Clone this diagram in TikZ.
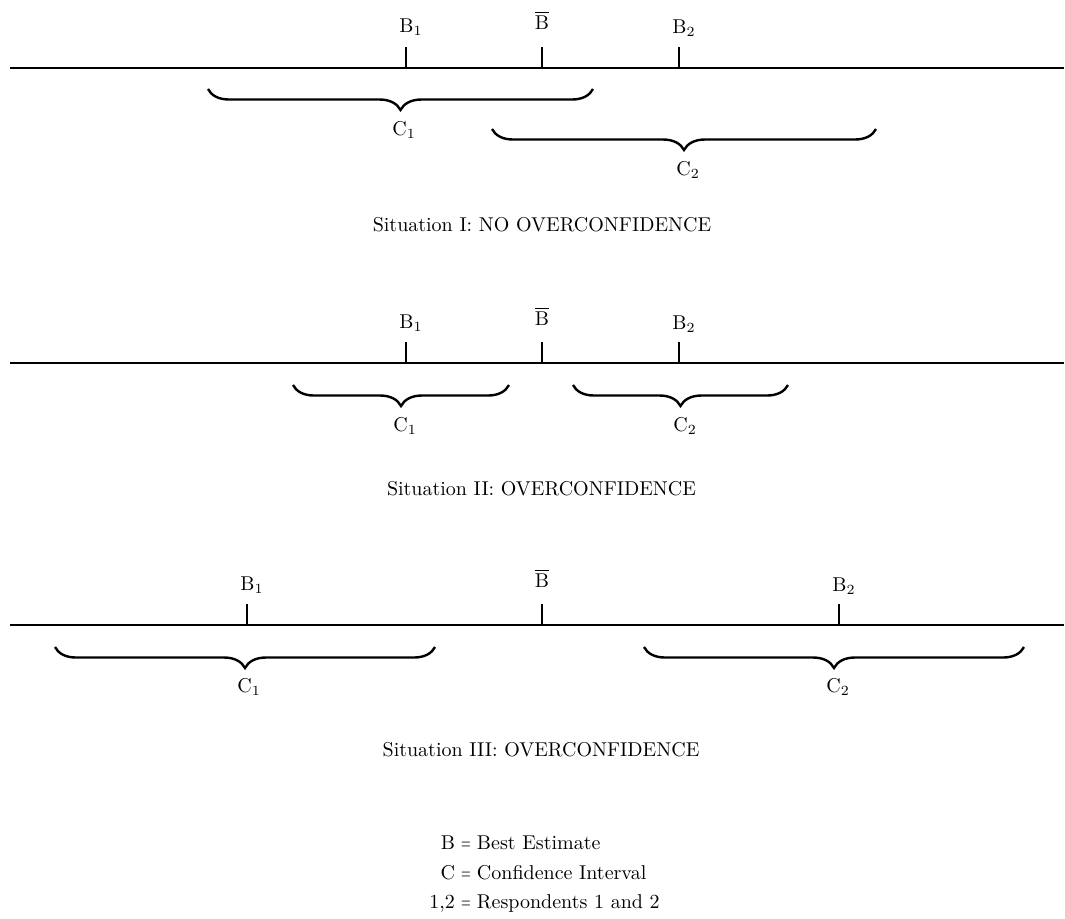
\documentclass[tikz,border=0pt]{standalone}
\usetikzlibrary{decorations.pathreplacing}
\begin{document}
\begin{tikzpicture}[x=0.5pt,y=-0.5pt,
  axis/.style={line width=1pt},
  tickmark/.style={line width=1.35pt},
  ci/.style={line width=1.2pt, decorate, decoration={brace, mirror, amplitude=10.5pt}},
  lab/.style={inner sep=0pt, font=\fontsize{10}{12}\selectfont, anchor=base west},
  barlab/.style={inner sep=0pt, font=\fontsize{10}{12}\selectfont, anchor=base},
  title/.style={inner sep=0pt, font=\fontsize{10}{12}\selectfont, anchor=base}]
\useasboundingbox (0,0) rectangle (1065,918);

% ---------- Situation I ----------
\coordinate (L1a) at (10,68);
\coordinate (L1b) at (1064,68);
\draw[axis] (L1a) -- (L1b);
\coordinate (k1a) at (406,68);  \coordinate (k1at) at (406,47);
\coordinate (k1b) at (542,68);  \coordinate (k1bt) at (542,47);
\coordinate (k1c) at (679,68);  \coordinate (k1ct) at (679,47);
\draw[tickmark] (k1a) -- (k1at);
\draw[tickmark] (k1b) -- (k1bt);
\draw[tickmark] (k1c) -- (k1ct);
\node[lab] (B1i) at (399,32) {B$_1$};
\node[barlab] (Bbi) at (542,29) {$\overline{\mathrm{B}}$};
\node[lab] (B2i) at (672,33) {B$_2$};
\coordinate (c1s) at (208,89);  \coordinate (c1e) at (593,89);
\draw[ci] (c1s) -- (c1e);
\node[lab] (C1i) at (392,135) {C$_1$};
\coordinate (c2s) at (492,129); \coordinate (c2e) at (876,129);
\draw[ci] (c2s) -- (c2e);
\node[lab] (C2i) at (676,175) {C$_2$};
\node[title] (S1) at (542,231) {Situation I: NO OVERCONFIDENCE};

% ---------- Situation II ----------
\coordinate (L2a) at (10,363);
\coordinate (L2b) at (1064,363);
\draw[axis] (L2a) -- (L2b);
\coordinate (k2a) at (406,363);  \coordinate (k2at) at (406,342);
\coordinate (k2b) at (542,363);  \coordinate (k2bt) at (542,342);
\coordinate (k2c) at (679,363);  \coordinate (k2ct) at (679,342);
\draw[tickmark] (k2a) -- (k2at);
\draw[tickmark] (k2b) -- (k2bt);
\draw[tickmark] (k2c) -- (k2ct);
\node[lab] (B1ii) at (399,328) {B$_1$};
\node[barlab] (Bbii) at (542,325) {$\overline{\mathrm{B}}$};
\node[lab] (B2ii) at (672,329) {B$_2$};
\coordinate (d1s) at (293,385);  \coordinate (d1e) at (509,385);
\draw[ci] (d1s) -- (d1e);
\node[lab] (C1ii) at (393,431) {C$_1$};
\coordinate (d2s) at (573,385); \coordinate (d2e) at (788,385);
\draw[ci] (d2s) -- (d2e);
\node[lab] (C2ii) at (673,431) {C$_2$};
\node[title] (S2) at (541.5,495) {Situation II: OVERCONFIDENCE};

% ---------- Situation III ----------
\coordinate (L3a) at (10,625);
\coordinate (L3b) at (1064,625);
\draw[axis] (L3a) -- (L3b);
\coordinate (k3a) at (247,625);  \coordinate (k3at) at (247,604);
\coordinate (k3b) at (542,625);  \coordinate (k3bt) at (542,604);
\coordinate (k3c) at (839,625);  \coordinate (k3ct) at (839,604);
\draw[tickmark] (k3a) -- (k3at);
\draw[tickmark] (k3b) -- (k3bt);
\draw[tickmark] (k3c) -- (k3ct);
\node[lab] (B1iii) at (240,590) {B$_1$};
\node[barlab] (Bbiii) at (542,587) {$\overline{\mathrm{B}}$};
\node[lab] (B2iii) at (832,591) {B$_2$};
\coordinate (e1s) at (55,647);  \coordinate (e1e) at (435,647);
\draw[ci] (e1s) -- (e1e);
\node[lab] (C1iii) at (237,692) {C$_1$};
\coordinate (e2s) at (644,647); \coordinate (e2e) at (1024,647);
\draw[ci] (e2s) -- (e2e);
\node[lab] (C2iii) at (826,692) {C$_2$};
\node[title] (S3) at (541,756) {Situation III: OVERCONFIDENCE};

% ---------- Legend ----------
\node[inner sep=0pt, anchor=north west, font=\fontsize{10}{12}\selectfont] (legend) at (429,829)
  {\renewcommand{\arraystretch}{1.22}%
   \begin{tabular}{@{}r@{\hspace{3.2pt}\makebox[4.6pt]{\scalebox{0.62}[1]{=}}\hspace{3.2pt}}l@{}}
   B & Best Estimate\\
   C & Confidence Interval\\
   1,2 & Respondents 1 and 2
   \end{tabular}};
\end{tikzpicture}
\end{document}
